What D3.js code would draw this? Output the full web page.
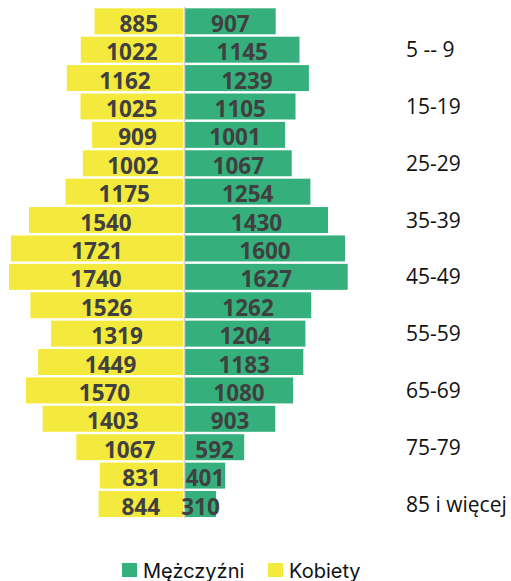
<!DOCTYPE html>
<html>
<head>
<meta charset="utf-8">
<script src="https://cdn.jsdelivr.net/npm/d3@7"></script>
<style>
  html, body { margin: 0; padding: 0; background: #fff; }
  svg { display: block; }
</style>
</head>
<body>
<div id="chart"></div>
<script>
var ageGroups = ["0-4", "5 -- 9", "10-14", "15-19", "20-24", "25-29", "30-34", "35-39", "40-44",
  "45-49", "50-54", "55-59", "60-64", "65-69", "70-74", "75-79", "80-84", "85 i więcej"];
var women = [885, 1022, 1162, 1025, 909, 1002, 1175, 1540, 1721, 1740, 1526, 1319, 1449, 1570, 1403, 1067, 831, 844];
var men = [907, 1145, 1239, 1105, 1001, 1067, 1254, 1430, 1600, 1627, 1262, 1204, 1183, 1080, 903, 592, 401, 310];
var seriesNames = ["Mężczyźni", "Kobiety"];

var green = "#35b07d", yellow = "#f4ea3e";
var W = 511, H = 581, mid = 184;

var svg = d3.select("#chart").append("svg")
    .attr("width", W)
    .attr("height", H);

var x = d3.scaleLinear().domain([0, 1800]).range([0, 180]);
var y = d3.scaleBand()
    .domain(ageGroups)
    .range([7.1, 518.2])
    .paddingInner(0.085)
    .paddingOuter(0.0425);

var rows = ageGroups.map(function(g, i) { return {age: g, w: women[i], m: men[i], i: i}; });

// women, left side
svg.append("g").selectAll("rect")
    .data(rows)
  .enter().append("rect")
    .attr("x", function(d) { return mid - 1 - x(d.w); })
    .attr("y", function(d) { return y(d.age); })
    .attr("width", function(d) { return x(d.w); })
    .attr("height", y.bandwidth())
    .attr("fill", yellow);

// men, right side
svg.append("g").selectAll("rect")
    .data(rows)
  .enter().append("rect")
    .attr("x", mid + 1)
    .attr("y", function(d) { return y(d.age); })
    .attr("width", function(d) { return x(d.m); })
    .attr("height", y.bandwidth())
    .attr("fill", green);

// center line
svg.append("line")
    .attr("x1", mid + 0.5).attr("x2", mid + 0.5)
    .attr("y1", y.range()[0]).attr("y2", y.range()[1])
    .attr("stroke", "#d0d0d0")
    .attr("stroke-width", 1.5);

var valStyle = function(sel) {
  sel.attr("font-family", "'Open Sans', sans-serif")
    .attr("font-weight", "bold")
    .attr("font-size", "22.5px")
    .attr("fill", "#404040")
    .attr("text-anchor", "middle");
};

svg.append("g").selectAll("text")
    .data(rows)
  .enter().append("text")
    .attr("x", function(d) { return mid - 1 - x(d.w) / 2; })
    .attr("y", function(d) { return y(d.age) + y.bandwidth() / 2 + 10.5; })
    .text(function(d) { return d.w; })
    .call(valStyle);

svg.append("g").selectAll("text")
    .data(rows)
  .enter().append("text")
    .attr("x", function(d) { return mid + 1 + x(d.m) / 2; })
    .attr("y", function(d) { return y(d.age) + y.bandwidth() / 2 + 10.5; })
    .text(function(d) { return d.m; })
    .call(valStyle);

// age labels, every other one
svg.append("g").selectAll("text")
    .data(rows.filter(function(d) { return d.i % 2 === 1; }))
  .enter().append("text")
    .attr("x", 406)
    .attr("y", function(d) { return y(d.age) + y.bandwidth() / 2 + 7.5; })
    .attr("font-family", "'Open Sans', sans-serif")
    .attr("font-size", "21px")
    .attr("fill", "#111")
    .text(function(d) { return d.age; });

// legend
var legend = svg.append("g");
var legendItems = [{name: seriesNames[0], color: green, x: 122}, {name: seriesNames[1], color: yellow, x: 268}];
legendItems.forEach(function(it) {
  legend.append("rect")
      .attr("x", it.x).attr("y", 563)
      .attr("width", 15).attr("height", 14)
      .attr("fill", it.color);
  legend.append("text")
      .attr("x", it.x + 21).attr("y", 577.5)
      .attr("font-family", "Inter, sans-serif")
      .attr("font-size", "20px")
      .attr("fill", "#111")
      .text(it.name);
});
</script>
</body>
</html>
